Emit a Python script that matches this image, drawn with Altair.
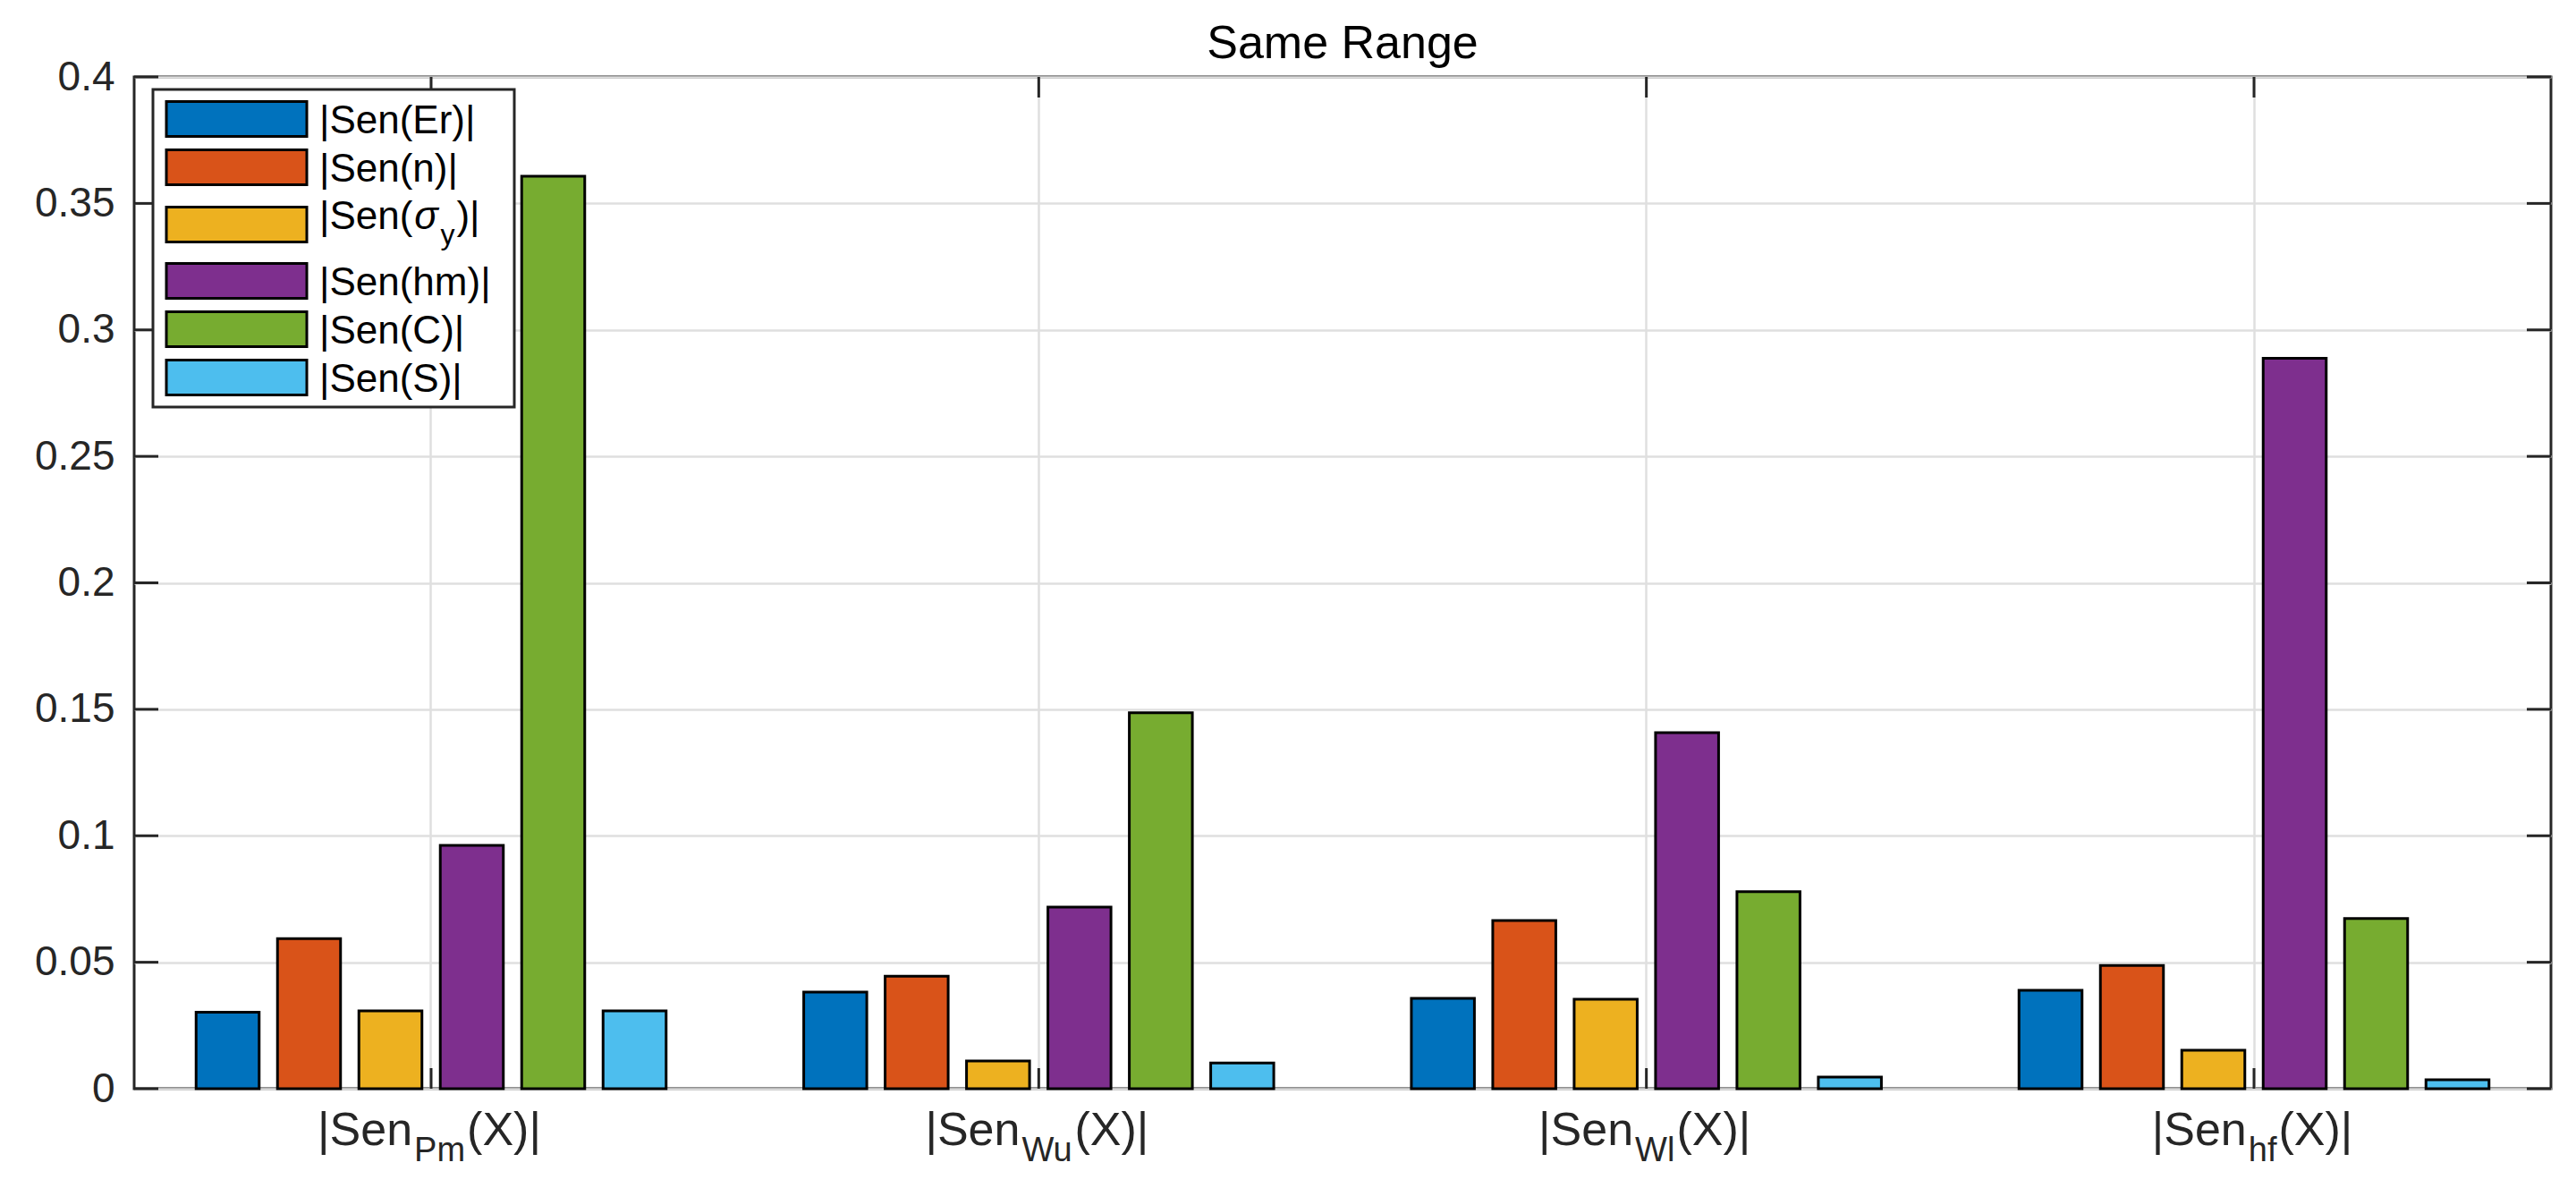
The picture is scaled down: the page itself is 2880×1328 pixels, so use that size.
import altair as alt
import pandas as pd

# ---------------- data ----------------
groups = ["Pm", "Wu", "Wl", "hf"]
series = ["|Sen(Er)|", "|Sen(n)|", "|Sen(σy)|", "|Sen(hm)|", "|Sen(C)|", "|Sen(S)|"]
colors = ["#0072BD", "#D95319", "#EDB120", "#7E2F8E", "#77AC30", "#4DBEEE"]

val_Er = [0.0302, 0.0382, 0.0357, 0.0389]
val_n = [0.0593, 0.0445, 0.0665, 0.0487]
val_sy = [0.0308, 0.0110, 0.0354, 0.0152]
val_hm = [0.0962, 0.0718, 0.1408, 0.2888]
val_C = [0.3607, 0.1486, 0.0779, 0.0673]
val_S = [0.0308, 0.0102, 0.0046, 0.0035]

y_ticks = [0, 0.05, 0.1, 0.15, 0.2, 0.25, 0.3, 0.35, 0.4]

all_vals = [val_Er, val_n, val_sy, val_hm, val_C, val_S]
rows = []
for s, vals in zip(series, all_vals):
    for g, v in zip(groups, vals):
        rows.append({"group": g, "series": s, "value": v})
df = pd.DataFrame(rows)

# ---------------- style ----------------
FONT = "Liberation Sans, Arial, Helvetica, sans-serif"
W, H = 2702, 1131
AXC = "#262626"
GRID = "#dfdfdf"

AW = {'|': 260, 'S': 667, 'e': 556, 'n': 556, '(': 333, ')': 333, 'X': 667, 'P': 667,
      'm': 833, 'W': 944, 'u': 556, 'l': 222, 'h': 556, 'f': 278, 'y': 500, 'σ': 570}


def tw(s, size):
    return sum(AW.get(c, 556) for c in s) * size / 1000.0


xscale = alt.Scale(domain=groups, paddingInner=0.1, paddingOuter=0.0387)
yscale = alt.Scale(domain=[0, 0.4], nice=False)

xaxis = alt.Axis(labels=False, ticks=False, domain=False, title=None,
                 grid=True, gridColor=GRID, gridWidth=2.5, bandPosition=0.5)
yaxis = alt.Axis(values=y_ticks, format="~g", title=None, ticks=False, domain=False,
                 grid=True, gridColor=GRID, gridWidth=2.5,
                 labelFont=FONT, labelFontSize=46, labelColor=AXC, labelPadding=22)

bars = alt.Chart(df).mark_bar(stroke="black", strokeWidth=3).encode(
    x=alt.X("group:N", sort=groups, scale=xscale, axis=xaxis),
    xOffset=alt.XOffset("series:N", sort=series,
                        scale=alt.Scale(domain=series, paddingInner=0.2253, paddingOuter=0.472)),
    y=alt.Y("value:Q", scale=yscale, axis=yaxis),
    color=alt.Color("series:N", sort=series, scale=alt.Scale(domain=series, range=colors), legend=None),
)

layers = [bars]

# inward ticks (MATLAB style)
tdf = pd.DataFrame({"value": y_ticks})
layers.append(alt.Chart(tdf).mark_rule(color=AXC, strokeWidth=3).encode(
    y=alt.Y("value:Q", scale=yscale, axis=yaxis), x=alt.value(0), x2=alt.value(27)))
layers.append(alt.Chart(tdf).mark_rule(color=AXC, strokeWidth=3).encode(
    y=alt.Y("value:Q", scale=yscale, axis=yaxis), x=alt.value(W - 27), x2=alt.value(W)))
gdf = pd.DataFrame({"group": groups})
layers.append(alt.Chart(gdf).mark_rule(color=AXC, strokeWidth=3).encode(
    x=alt.X("group:N", sort=groups, scale=xscale, axis=xaxis), y=alt.value(0), y2=alt.value(23)))
layers.append(alt.Chart(gdf).mark_rule(color=AXC, strokeWidth=3).encode(
    x=alt.X("group:N", sort=groups, scale=xscale, axis=xaxis), y=alt.value(H - 23), y2=alt.value(H)))

# ---------------- legend (drawn manually for the subscript) ----------------
one = pd.DataFrame({"k": [0]})
layers.append(alt.Chart(one).mark_rect(fill="white", stroke=AXC, strokeWidth=3).encode(
    x=alt.value(21), x2=alt.value(425), y=alt.value(14), y2=alt.value(369)))

row_c = [47, 101, 165, 228, 282, 336]
LFS = 44
for i, (s, c) in enumerate(zip(series, colors)):
    cy = row_c[i]
    layers.append(alt.Chart(one).mark_rect(fill=c, stroke="black", strokeWidth=3).encode(
        x=alt.value(36), x2=alt.value(193), y=alt.value(cy - 19.5), y2=alt.value(cy + 19.5)))
    if i != 2:
        layers.append(alt.Chart(one).mark_text(
            text=s, align="left", baseline="alphabetic", font=FONT, fontSize=LFS, color="black"
        ).encode(x=alt.value(207), y=alt.value(cy + 16)))
    else:
        base = cy + 5
        x0 = 207
        p1 = "|Sen("
        layers.append(alt.Chart(one).mark_text(
            text=p1, align="left", baseline="alphabetic", font=FONT, fontSize=LFS, color="black"
        ).encode(x=alt.value(x0), y=alt.value(base)))
        x1 = x0 + tw(p1, LFS) + 2
        layers.append(alt.Chart(one).mark_text(
            text="σ", align="left", baseline="alphabetic", font=FONT, fontSize=LFS,
            fontStyle="italic", color="black"
        ).encode(x=alt.value(x1), y=alt.value(base)))
        x2 = x1 + tw("σ", LFS) + 4
        layers.append(alt.Chart(one).mark_text(
            text="y", align="left", baseline="alphabetic", font=FONT, fontSize=32, color="black"
        ).encode(x=alt.value(x2), y=alt.value(base + 17)))
        x3 = x2 + tw("y", 32) + 2
        layers.append(alt.Chart(one).mark_text(
            text=")|", align="left", baseline="alphabetic", font=FONT, fontSize=LFS, color="black"
        ).encode(x=alt.value(x3), y=alt.value(base)))

# ---------------- x labels with subscripts ----------------
XFS, SFS = 52, 38
for g in groups:
    w1 = tw("|Sen", XFS)
    ws = tw(g, SFS)
    w3 = tw("(X)|", XFS)
    start = -(w1 + ws + w3) / 2.0 - 4
    gd = pd.DataFrame({"group": [g]})
    parts = [("|Sen", start, XFS, H + 63), (g, start + w1 + 2, SFS, H + 81),
             ("(X)|", start + w1 + ws + 4, XFS, H + 63)]
    for txt, dx, fs, yy in parts:
        layers.append(alt.Chart(gd).mark_text(
            text=txt, align="left", baseline="alphabetic", dx=dx, font=FONT, fontSize=fs, color=AXC
        ).encode(x=alt.X("group:N", sort=groups, scale=xscale, axis=xaxis), y=alt.value(yy)))

chart = alt.layer(*layers).properties(
    width=W, height=H,
    title=alt.TitleParams("Same Range", font=FONT, fontSize=52, fontWeight="normal", color="black",
                          anchor="middle", frame="group", offset=-13),
    autosize=alt.AutoSizeParams(type="none"),
    padding={"left": 142, "top": 78, "right": 20, "bottom": 100},
    background="white",
).configure_view(stroke=AXC, strokeWidth=3)

chart.save("out.html", embed_options={"renderer": "svg", "actions": False})
